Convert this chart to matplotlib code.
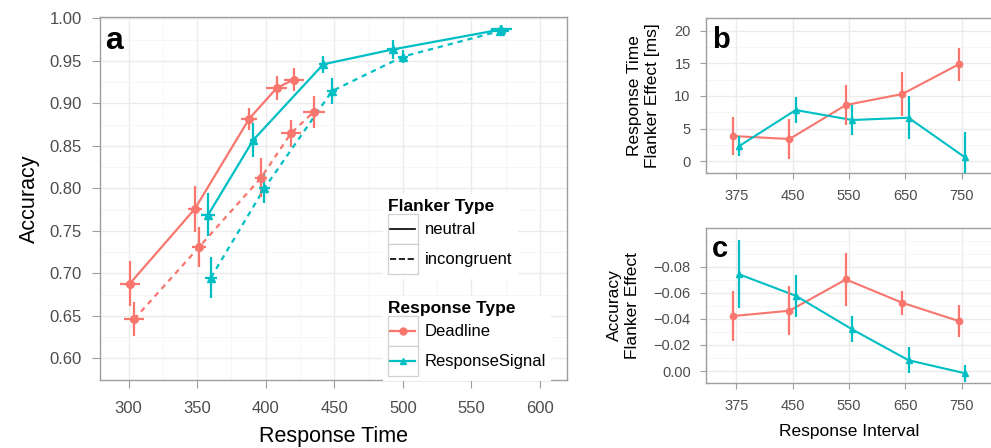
import numpy as np
import matplotlib
matplotlib.use("Agg")
import matplotlib.pyplot as plt
from matplotlib.lines import Line2D
from matplotlib.patches import Rectangle
from matplotlib.legend_handler import HandlerBase
from matplotlib.ticker import MultipleLocator

plt.rcParams['font.family'] = ['Liberation Sans', 'DejaVu Sans']

RED = '#F8766D'
TEAL = '#00BFC4'
GRID = '#EBEBEB'
GRID_MINOR = '#F5F5F5'
BORDER = '#9E9E9E'
TICKTXT = '#4D4D4D'

# ---- panel a: speed-accuracy curves ----
dl_neu_rt = [301.0, 348.4, 388.0, 408.0, 420.4]
dl_neu_acc = [0.688, 0.776, 0.882, 0.918, 0.928]
dl_neu_rt_err = [7.5, 4.9, 6.0, 7.7, 7.3]
dl_neu_acc_err = [0.027, 0.027, 0.013, 0.014, 0.0135]

dl_inc_rt = [304.1, 351.5, 396.6, 418.5, 435.0]
dl_inc_acc = [0.646, 0.731, 0.8125, 0.865, 0.890]
dl_inc_rt_err = [7.3, 4.9, 4.6, 7.3, 8.0]
dl_inc_acc_err = [0.020, 0.024, 0.023, 0.016, 0.019]

rs_neu_rt = [358.1, 391.0, 442.0, 492.7, 571.8]
rs_neu_acc = [0.769, 0.857, 0.946, 0.9635, 0.987]
rs_neu_rt_err = [4.9, 2.5, 3.3, 4.3, 7.5]
rs_neu_acc_err = [0.0255, 0.0196, 0.010, 0.0108, 0.0055]

rs_inc_rt = [360.1, 399.0, 448.4, 500.0, 570.5]
rs_inc_acc = [0.695, 0.800, 0.9145, 0.955, 0.985]
rs_inc_rt_err = [4.3, 4.0, 3.4, 3.7, 7.0]
rs_inc_acc_err = [0.0237, 0.0167, 0.0157, 0.008, 0.005]

rt_ticks = [300, 350, 400, 450, 500, 550, 600]
acc_ticks = [0.60, 0.65, 0.70, 0.75, 0.80, 0.85, 0.90, 0.95, 1.00]

# ---- panels b and c: flanker effects per response interval ----
intervals = ['375', '450', '550', '650', '750']
rtfx_dl = [3.87, 3.41, 8.62, 10.3, 14.85]
rtfx_dl_err = [2.9, 3.1, 3.1, 3.3, 2.5]
rtfx_rs = [2.34, 7.85, 6.32, 6.67, 0.61]
rtfx_rs_err = [1.5, 2.0, 2.3, 3.3, 3.9]
rtfx_ticks = [0, 5, 10, 15, 20]

accfx_dl = [-0.0422, -0.0463, -0.0703, -0.0524, -0.0384]
accfx_dl_err = [0.0195, 0.019, 0.020, 0.0093, 0.012]
accfx_rs = [-0.0742, -0.0578, -0.032, -0.0083, 0.0017]
accfx_rs_err = [0.026, 0.016, 0.010, 0.0098, 0.0064]
accfx_ticks = [0.00, -0.02, -0.04, -0.06, -0.08]


def style_axes(ax, tick_size, tick_len, tick_pad):
    ax.set_facecolor('white')
    for s in ax.spines.values():
        s.set_color(BORDER)
        s.set_linewidth(1.0)
    ax.grid(which='major', color=GRID, lw=1.0, zorder=0)
    ax.grid(which='minor', color=GRID_MINOR, lw=0.6, zorder=0)
    ax.set_axisbelow(True)
    ax.tick_params(which='major', length=tick_len, width=0.8, color=BORDER,
                   pad=tick_pad, labelsize=tick_size, labelcolor=TICKTXT)
    ax.tick_params(which='minor', length=0)


class BoxedKey(HandlerBase):
    def create_artists(self, legend, orig, xd, yd, width, height, fontsize, trans):
        box = Rectangle((-xd, -yd), width, height, fc='white', ec='#D0D0D0',
                        lw=0.9, transform=trans)
        y = -yd + height / 2
        line = Line2D([-xd + 0.08 * width, -xd + 0.92 * width], [y, y],
                      color=orig.get_color(), ls=orig.get_linestyle(),
                      lw=orig.get_linewidth(), transform=trans)
        arts = [box, line]
        if orig.get_marker() not in (None, 'None', ''):
            mk = Line2D([-xd + width / 2], [y], marker=orig.get_marker(),
                        color=orig.get_color(), ms=orig.get_markersize(),
                        ls='none', transform=trans)
            arts.append(mk)
        return arts


fig = plt.figure(figsize=(9.91, 4.48), dpi=100)

# ---------------- panel a ----------------
ax = fig.add_axes([100 / 991, 1 - 380 / 448, 467 / 991, 363.3 / 448])
style_axes(ax, 12, 6, 7)
ax.tick_params(axis='x', pad=9)

series_a = [
    (dl_neu_rt, dl_neu_acc, dl_neu_rt_err, dl_neu_acc_err, RED, 'o', '-'),
    (dl_inc_rt, dl_inc_acc, dl_inc_rt_err, dl_inc_acc_err, RED, 'o', (0, (2.4, 2.2))),
    (rs_neu_rt, rs_neu_acc, rs_neu_rt_err, rs_neu_acc_err, TEAL, '^', '-'),
    (rs_inc_rt, rs_inc_acc, rs_inc_rt_err, rs_inc_acc_err, TEAL, '^', (0, (2.4, 2.2))),
]
for x, y, xe, ye, col, mk, ls in series_a:
    ax.plot(x, y, color=col, ls=ls, lw=1.6, zorder=3)
    ax.errorbar(x, y, xerr=xe, yerr=ye, fmt=mk, color=col, ms=5.5,
                elinewidth=1.6, capsize=0, zorder=4)

ax.set_xlim(279.2, 619.7)
ax.set_ylim(0.5745, 1.002)
ax.set_xticks(rt_ticks)
ax.set_yticks(acc_ticks)
ax.set_yticklabels([f'{v:.2f}' for v in acc_ticks])
ax.xaxis.set_minor_locator(MultipleLocator(25))
ax.yaxis.set_minor_locator(MultipleLocator(0.025))
ax.set_xlabel('Response Time', fontsize=15.5, labelpad=7)
ax.set_ylabel('Accuracy', fontsize=15.5, labelpad=7)
ax.text(0.012, 0.975, 'a', transform=ax.transAxes, fontsize=23,
        fontweight='bold', va='top', ha='left')

# legends
flank_handles = [Line2D([], [], color='black', lw=1.2, ls='-'),
                 Line2D([], [], color='black', lw=1.2, ls=(0, (2.4, 2.2)))]
resp_handles = [Line2D([], [], color=RED, lw=1.6, marker='o', ms=5),
                Line2D([], [], color=TEAL, lw=1.6, marker='^', ms=5)]
hmap = {h: BoxedKey() for h in flank_handles + resp_handles}
leg_kw = dict(loc='upper left', fontsize=12, title_fontsize=12.5,
              handlelength=1.8, handleheight=2.39, labelspacing=0,
              handletextpad=0.45, borderpad=0.3, borderaxespad=0,
              alignment='left', frameon=True, fancybox=False,
              facecolor='white', edgecolor='none', framealpha=1,
              handler_map=hmap)
leg1 = ax.legend(flank_handles, ['neutral', 'incongruent'],
                 title='Flanker Type', bbox_to_anchor=(0.605, 0.512), **leg_kw)
leg1.get_title().set_fontweight('bold')
ax.add_artist(leg1)
leg2 = ax.legend(resp_handles, ['Deadline', 'ResponseSignal'],
                 title='Response Type', bbox_to_anchor=(0.605, 0.232), **leg_kw)
leg2.get_title().set_fontweight('bold')

# ---------------- panels b and c ----------------
pos = np.arange(1, len(intervals) + 1)
dodge = 0.055


def effect_panel(rect, dl, dl_err, rs, rs_err, letter):
    a = fig.add_axes(rect)
    style_axes(a, 10.5, 4.5, 6.5)
    a.plot(pos - dodge, dl, color=RED, lw=1.5, zorder=3)
    a.errorbar(pos - dodge, dl, yerr=dl_err, fmt='o', color=RED, ms=4.5,
               elinewidth=1.6, capsize=0, zorder=4)
    a.plot(pos + dodge, rs, color=TEAL, lw=1.5, zorder=3)
    a.errorbar(pos + dodge, rs, yerr=rs_err, fmt='^', color=TEAL, ms=4.5,
               elinewidth=1.6, capsize=0, zorder=4)
    a.set_xlim(0.465, 5.535)
    a.set_xticks(pos)
    a.set_xticklabels(intervals)
    a.text(0.02, 0.95, letter, transform=a.transAxes, fontsize=21,
           fontweight='bold', va='top', ha='left')
    return a


axb = effect_panel([706 / 991, 1 - 173.3 / 448, 286 / 991, 155 / 448],
                   rtfx_dl, rtfx_dl_err, rtfx_rs, rtfx_rs_err, 'b')
axb.set_ylim(-1.84, 21.9)
axb.set_yticks(rtfx_ticks)
axb.yaxis.set_minor_locator(MultipleLocator(2.5))
axb.set_ylabel('Response Time\nFlanker Effect [ms]', fontsize=12.5,
               labelpad=10, linespacing=1.25)

axc = effect_panel([706 / 991, 1 - 383.3 / 448, 286 / 991, 155.6 / 448],
                   accfx_dl, accfx_dl_err, accfx_rs, accfx_rs_err, 'c')
axc.set_ylim(0.0094, -0.110)
axc.set_yticks(accfx_ticks)
axc.set_yticklabels([f'{v:.2f}'.replace('-', '\u2212') for v in accfx_ticks])
axc.yaxis.set_minor_locator(MultipleLocator(0.01))
axc.set_ylabel('Accuracy\nFlanker Effect', fontsize=12.5, labelpad=10,
               linespacing=1.25)
axc.set_xlabel('Response Interval', fontsize=12.5, labelpad=8)

fig.savefig('out.png', dpi=100, facecolor='white')
